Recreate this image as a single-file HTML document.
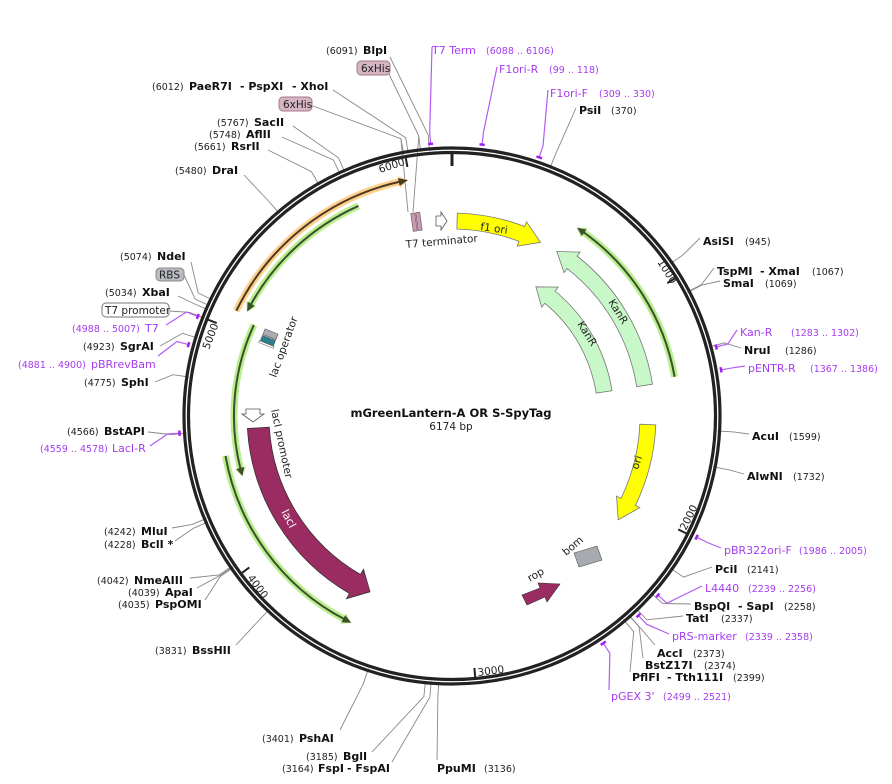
<!DOCTYPE html>
<html><head><meta charset="utf-8"><style>
html,body{margin:0;padding:0;background:#fff}
svg{display:block}
text{font-family:"DejaVu Sans","Liberation Sans",sans-serif;font-size:9.5px;fill:#222}
.b{font-weight:bold;font-size:11px;fill:#111}
.p{fill:#a53cf0;font-size:11px}
.pn{fill:#a53cf0;font-size:9.5px}
</style></head><body>
<svg id="s" width="892" height="784" viewBox="0 0 892 784" xmlns="http://www.w3.org/2000/svg">
<g id="lines" stroke="#888" stroke-width="0.9" fill="none"></g>
<g id="feat"></g>
<circle cx="452" cy="416" r="268" fill="none" stroke="#222" stroke-width="3.2"/>
<circle cx="452" cy="416" r="263.5" fill="none" stroke="#222" stroke-width="3.2"/>
<g id="top"></g>
<text x="326" y="54">(6091)</text><text class="b" x="363" y="54">BlpI</text>
<rect x="357" y="61" width="33" height="14" rx="4" fill="#d7b4c3" stroke="#a57a8c"/><text x="361" y="72" style="font-size:10.5px">6xHis</text>
<text x="152" y="90">(6012)</text><text class="b" x="189" y="90">PaeR7I</text><text class="b" x="240" y="90">- PspXI</text><text class="b" x="292" y="90">- XhoI</text>
<rect x="279" y="97" width="33" height="14" rx="4" fill="#d7b4c3" stroke="#a57a8c"/><text x="283" y="108" style="font-size:10.5px">6xHis</text>
<text x="217" y="126">(5767)</text><text class="b" x="254" y="126">SacII</text>
<text x="209" y="138">(5748)</text><text class="b" x="246" y="138">AflII</text>
<text x="194" y="150">(5661)</text><text class="b" x="231" y="150">RsrII</text>
<text x="175" y="174">(5480)</text><text class="b" x="212" y="174">DraI</text>
<text x="120" y="260">(5074)</text><text class="b" x="157" y="260">NdeI</text>
<rect x="156" y="268" width="28" height="13" rx="4" fill="#b8bcc2" stroke="#888"/><text x="159" y="278.5" style="font-size:10.5px">RBS</text>
<text x="105" y="296">(5034)</text><text class="b" x="142" y="296">XbaI</text>
<rect x="102" y="303" width="67" height="14" rx="4" fill="#fff" stroke="#777"/><text x="105" y="314" style="font-size:10.5px">T7 promoter</text>
<text class="pn" x="72" y="332">(4988 .. 5007)</text><text class="p" x="145" y="332">T7</text>
<text x="83" y="350">(4923)</text><text class="b" x="120" y="350">SgrAI</text>
<text class="pn" x="18" y="368">(4881 .. 4900)</text><text class="p" x="91" y="368">pBRrevBam</text>
<text x="84" y="386">(4775)</text><text class="b" x="121" y="386">SphI</text>
<text x="67" y="435">(4566)</text><text class="b" x="104" y="435">BstAPI</text>
<text class="pn" x="40" y="452">(4559 .. 4578)</text><text class="p" x="112" y="452">LacI-R</text>
<text x="104" y="535">(4242)</text><text class="b" x="141" y="535">MluI</text>
<text x="104" y="548">(4228)</text><text class="b" x="141" y="548">BclI *</text>
<text x="97" y="584">(4042)</text><text class="b" x="134" y="584">NmeAIII</text>
<text x="128" y="596">(4039)</text><text class="b" x="165" y="596">ApaI</text>
<text x="118" y="608">(4035)</text><text class="b" x="155" y="608">PspOMI</text>
<text x="155" y="654">(3831)</text><text class="b" x="192" y="654">BssHII</text>
<text x="262" y="742">(3401)</text><text class="b" x="299" y="742">PshAI</text>
<text x="306" y="760">(3185)</text><text class="b" x="343" y="760">BglI</text>
<text x="282" y="772">(3164)</text><text class="b" x="318" y="772">FspI</text><text class="b" x="347" y="772">- FspAI</text>
<text class="b" x="437" y="772">PpuMI</text><text x="484" y="772">(3136)</text>
<text class="p" x="432" y="54">T7 Term</text><text class="pn" x="486" y="54">(6088 .. 6106)</text>
<text class="p" x="499" y="73">F1ori-R</text><text class="pn" x="549" y="73">(99 .. 118)</text>
<text class="p" x="550" y="97">F1ori-F</text><text class="pn" x="599" y="97">(309 .. 330)</text>
<text class="b" x="579" y="114">PsiI</text><text x="611" y="114">(370)</text>
<text class="b" x="703" y="245">AsiSI</text><text x="745" y="245">(945)</text>
<text class="b" x="717" y="275">TspMI</text><text class="b" x="760" y="275">- XmaI</text><text x="812" y="275">(1067)</text>
<text class="b" x="723" y="287">SmaI</text><text x="765" y="287">(1069)</text>
<text class="p" x="740" y="336">Kan-R</text><text class="pn" x="791" y="336">(1283 .. 1302)</text>
<text class="b" x="744" y="354">NruI</text><text x="785" y="354">(1286)</text>
<text class="p" x="748" y="372">pENTR-R</text><text class="pn" x="810" y="372">(1367 .. 1386)</text>
<text class="b" x="752" y="440">AcuI</text><text x="789" y="440">(1599)</text>
<text class="b" x="747" y="480">AlwNI</text><text x="793" y="480">(1732)</text>
<text class="p" x="724" y="554">pBR322ori-F</text><text class="pn" x="799" y="554">(1986 .. 2005)</text>
<text class="b" x="715" y="573">PciI</text><text x="747" y="573">(2141)</text>
<text class="p" x="705" y="592">L4440</text><text class="pn" x="748" y="592">(2239 .. 2256)</text>
<text class="b" x="694" y="610">BspQI</text><text class="b" x="738" y="610">- SapI</text><text x="784" y="610">(2258)</text>
<text class="b" x="686" y="622">TatI</text><text x="721" y="622">(2337)</text>
<text class="p" x="672" y="640">pRS-marker</text><text class="pn" x="745" y="640">(2339 .. 2358)</text>
<text class="b" x="657" y="657">AccI</text><text x="693" y="657">(2373)</text>
<text class="b" x="645" y="669">BstZ17I</text><text x="704" y="669">(2374)</text>
<text class="b" x="632" y="681">PflFI</text><text class="b" x="667" y="681">- Tth111I</text><text x="733" y="681">(2399)</text>
<text class="p" x="611" y="700">pGEX 3'</text><text class="pn" x="663" y="700">(2499 .. 2521)</text>
<text class="b" x="451" y="417" text-anchor="middle" style="font-size:11.5px">mGreenLantern-A OR S-SpyTag</text>
<text x="451" y="430" text-anchor="middle" style="font-size:10.5px">6174 bp</text>
<g transform="translate(415,222) rotate(-8)"><rect x="-3" y="-9" width="4" height="18" fill="#c99ab0" stroke="#7a5a6a" stroke-width="0.7"/><rect x="2" y="-9" width="4" height="18" fill="#c99ab0" stroke="#7a5a6a" stroke-width="0.7"/></g>
<path d="M436,216 L441,216 L441,212 L447,221 L441,230 L441,226 L436,226 Z" fill="#fff" stroke="#555" stroke-width="0.8"/>
<text x="406" y="248" transform="rotate(-5 406 248)" style="font-size:10.5px">T7 terminator</text>
<g transform="translate(269,338) rotate(22)"><rect x="-7" y="-7" width="14" height="6" fill="#a9adb3" stroke="#555" stroke-width="0.6"/><rect x="-7" y="0" width="14" height="6" fill="#2b7f8e" stroke="#555" stroke-width="0.6"/><rect x="-8" y="6" width="16" height="2" fill="#fff" stroke="#555" stroke-width="0.5"/></g>
<path d="M246,409 L260,409 L260,414 L264,414 L253,422 L242,414 L246,414 Z" fill="#fff" stroke="#555" stroke-width="0.8"/>
<path d="M574,553 L597,546 L602,560 L579,567 Z" fill="#a7abb0" stroke="#555" stroke-width="0.6"/>
<path d="M522,595 L540,588 L538,583 L560,584 L547,602 L545,597 L527,605 Z" fill="#9b2c62" stroke="#333" stroke-width="0.6"/>
<text x="530" y="582" transform="rotate(-30 530 582)" style="font-size:10.5px">rop</text>
<text x="566" y="556" transform="rotate(-40 566 556)" style="font-size:10.5px">bom</text>
<g id="ftext"></g>
</svg>
<script>
var cx=452,cy=416,N=6174,NS="http://www.w3.org/2000/svg";
function P(r,a){var t=a*Math.PI/180;return [cx+r*Math.sin(t),cy-r*Math.cos(t)];}
function s(p){return p[0].toFixed(1)+","+p[1].toFixed(1);}
function ang(bp){return bp/N*360;}
function el(tag,attrs,parent){var e=document.createElementNS(NS,tag);for(var k in attrs)e.setAttribute(k,attrs[k]);document.getElementById(parent).appendChild(e);return e;}
function arc(r,a1,a2){var sw=a2>a1?1:0,lg=Math.abs(a2-a1)>180?1:0;return "M"+s(P(r,a1))+" A"+r+","+r+" 0 "+lg+" "+sw+" "+s(P(r,a2));}
function fArrow(ri,ro,a1,a2,h,e,fill,stroke){
 var d=a2>a1?1:-1,b=a2-d*h,rm=(ri+ro)/2,lg=Math.abs(b-a1)>180?1:0,sw=d>0?1:0,sw2=1-sw;
 var p="M"+s(P(ro,a1))+" A"+ro+","+ro+" 0 "+lg+" "+sw+" "+s(P(ro,b))+" L"+s(P(ro+e,b))+" L"+s(P(rm,a2))+" L"+s(P(ri-e,b))+" L"+s(P(ri,b))+" A"+ri+","+ri+" 0 "+lg+" "+sw2+" "+s(P(ri,a1))+"Z";
 el("path",{d:p,fill:fill,stroke:stroke,"stroke-width":0.8},"feat");}
function lArrow(r,a1,a2,hl,dark){
 var d=a2>a1?1:-1,b=a2-d*2.2;
 el("path",{d:arc(r,a1,b),stroke:hl,"stroke-width":7,fill:"none"},"feat");
 el("path",{d:"M"+s(P(r+6,b))+" L"+s(P(r,a2))+" L"+s(P(r-6,b))+"Z",fill:hl},"feat");
 el("path",{d:arc(r,a1,b+d*0.6),stroke:dark,"stroke-width":2,fill:"none"},"feat");
 el("path",{d:"M"+s(P(r+4,b))+" L"+s(P(r,a2))+" L"+s(P(r-4,b))+"Z",fill:dark},"feat");}
var G="#b9ef8f",GD="#3d4f2c";
lArrow(240,296,349.4,"#fdd08f","#4a3a20");
lArrow(230,336,297,G,GD);
lArrow(218,294.7,254,G,GD);
lArrow(230,260,206,G,GD);
lArrow(226,80,33.6,G,GD);
fArrow(187,203,1.5,27,6,5,"#ffff00","#777");
fArrow(187,203,81,32.5,5.5,5,"#c8f8c8","#777");
fArrow(146,162,81,33,6.5,5,"#c8f8c8","#777");
fArrow(188,204,92.5,122,6,5,"#ffff00","#777");
fArrow(183,205,266.5,205,5,6,"#9b2c62","#333");
[1000,2000,3000,4000,5000,6000].forEach(function(t){var a=ang(t);el("path",{d:"M"+s(P(262,a))+" L"+s(P(253,a)),stroke:"#222","stroke-width":2},"top");});
el("path",{d:"M"+s(P(262,0))+" L"+s(P(250,0)),stroke:"#222","stroke-width":3},"top");
function T(x,y,rot,txt,style){var e=el("text",{x:x,y:y,transform:"rotate("+rot+" "+x+" "+y+")"},"ftext");if(style)e.setAttribute("style",style);e.textContent=txt;return e;}
var ts="font-size:10.5px";
T(380,173,-18,"6000",ts);
T(657,262,58,"1000",ts);
T(686,531,-64,"2000",ts);
T(478,676,-7,"3000",ts);
T(247,578,53,"4000",ts);
T(209,350,-69,"5000",ts);
T(480,230,8,"f1 ori",ts);
T(608,302,58,"KanR",ts);
T(577,324,58,"KanR",ts);
T(638,470,-72,"ori",ts);
T(281,512,62,"lacI","font-size:11px;fill:#fff");
T(271,410,78,"lacI promoter",ts);
T(276,378,-70,"lac operator",ts);
var L=[[390,57,6091],[388,72,6058],[333,90,6012],[313,106,5995],[293,126,5767],[282,137,5748],[268,150,5661],[244,175,5480],[191,262,5074],[184,275,5050],[178,296,5034],[170,311,5000],[155,382,4775],[160,346,4923],[148,432,4566],[172,528,4242],[175,541,4228],[190,578,4042],[197,588,4039],[205,600,4035],[236,645,3831],[340,730,3401],[372,752,3185],[392,762,3164],[437,760,3136],[576,108,370],[700,238,945],[714,268,1067],[720,281,1069],[741,348,1286],[749,434,1599],[744,474,1732],[712,567,2141],[691,604,2258],[683,616,2337],[655,645,2373],[643,658,2374],[630,672,2399]];
L.forEach(function(l){var a=ang(l[2]);el("path",{d:"M"+l[0]+","+l[1]+" L"+s(P(282,a))+" L"+s(P(266,a))},"lines");});
el("path",{d:"M"+s(P(282,ang(6058)))+" L413,212"},"lines");
el("path",{d:"M"+s(P(282,ang(5995)))+" L408,212"},"lines");
var PR=[[432,47,6088,6106],[497,67,99,118],[548,90,309,330],[166,325,4988,5007],[158,356,4881,4900],[150,446,4559,4578],[737,330,1283,1302],[745,366,1367,1386],[721,548,1986,2005],[702,586,2239,2256],[669,634,2339,2358],[609,690,2499,2521]];
PR.forEach(function(p){var a1=ang(p[2]),a2=ang(p[3]),m=(a1+a2)/2;
 el("path",{d:"M"+p[0]+","+p[1]+" L"+s(P(285,m))+" L"+s(P(273,m)),stroke:"#b35cf5","stroke-width":1.2,fill:"none"},"top");
 el("path",{d:arc(273,a1,a2),stroke:"#a020f0","stroke-width":2.5,fill:"none"},"top");});
</script>
</body></html>
